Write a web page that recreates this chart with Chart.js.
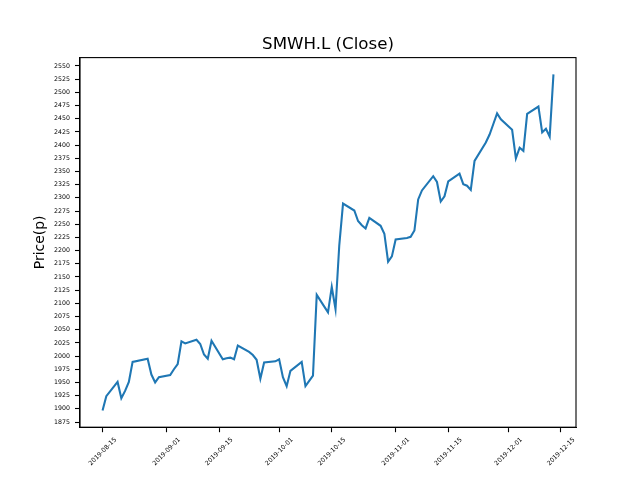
<!DOCTYPE html>
<html>
<head>
<meta charset="utf-8">
<script src="https://cdn.jsdelivr.net/npm/chart.js@4/dist/chart.umd.min.js"></script>
<style>
  body { margin: 0; background: #fff; }
  canvas { display: block; }
</style>
</head>
<body>
<canvas id="chart_close" width="640" height="480"></canvas>
<script>
// SMWH.L daily close
const dates = [
    '2019-08-15', '2019-08-16', '2019-08-19', '2019-08-20', '2019-08-21', '2019-08-22', '2019-08-23',
    '2019-08-27', '2019-08-28', '2019-08-29', '2019-08-30',
    '2019-09-02', '2019-09-03', '2019-09-04', '2019-09-05', '2019-09-06',
    '2019-09-09', '2019-09-10', '2019-09-11', '2019-09-12', '2019-09-13',
    '2019-09-16', '2019-09-17', '2019-09-18', '2019-09-19', '2019-09-20',
    '2019-09-23', '2019-09-24', '2019-09-25', '2019-09-26', '2019-09-27',
    '2019-09-30', '2019-10-01', '2019-10-02', '2019-10-03', '2019-10-04',
    '2019-10-07', '2019-10-08', '2019-10-09', '2019-10-10', '2019-10-11',
    '2019-10-14', '2019-10-15', '2019-10-16', '2019-10-17', '2019-10-18',
    '2019-10-21', '2019-10-22', '2019-10-23', '2019-10-24', '2019-10-25',
    '2019-10-28', '2019-10-29', '2019-10-30', '2019-10-31', '2019-11-01',
    '2019-11-04', '2019-11-05', '2019-11-06', '2019-11-07', '2019-11-08',
    '2019-11-11', '2019-11-12', '2019-11-13', '2019-11-14', '2019-11-15',
    '2019-11-18', '2019-11-19', '2019-11-20', '2019-11-21', '2019-11-22',
    '2019-11-25', '2019-11-26', '2019-11-27', '2019-11-28', '2019-11-29',
    '2019-12-02', '2019-12-03', '2019-12-04', '2019-12-05', '2019-12-06',
    '2019-12-09', '2019-12-10', '2019-12-11', '2019-12-12', '2019-12-13'
];
const closes = [
    1897, 1924, 1951, 1920, 1934, 1951, 1989,
    1995, 1965, 1950, 1960,
    1964, 1975, 1985, 2028, 2024,
    2031, 2023, 2003, 1995, 2029,
    1994, 1996, 1997, 1994, 2020,
    2008, 2002, 1993, 1957, 1988,
    1990, 1994, 1960, 1943, 1972,
    1989, 1943, 1953, 1963, 2116,
    2083, 2131, 2089, 2210, 2289,
    2276, 2256, 2248, 2242, 2262,
    2247, 2232, 2179, 2189, 2221,
    2224, 2226, 2238, 2297, 2314,
    2341, 2330, 2293, 2303, 2331,
    2346, 2326, 2323, 2315, 2370,
    2405, 2420, 2440, 2460, 2449,
    2429, 2375, 2395, 2389, 2459,
    2473, 2424, 2431, 2416, 2534
];
const xTickDates = [
    '2019-08-15', '2019-09-01', '2019-09-15', '2019-10-01', '2019-10-15',
    '2019-11-01', '2019-11-15', '2019-12-01', '2019-12-15'
];
const yTickValues = [
    1875, 1900, 1925, 1950, 1975, 2000, 2025, 2050, 2075, 2100, 2125, 2150, 2175, 2200,
    2225, 2250, 2275, 2300, 2325, 2350, 2375, 2400, 2425, 2450, 2475, 2500, 2525, 2550
];

const DAY = 86400000;
const base = Date.parse(dates[0] + 'T00:00:00Z');
const toDay = d => (Date.parse(d + 'T00:00:00Z') - base) / DAY;
const toDate = v => new Date(base + v * DAY).toISOString().slice(0, 10);

// matplotlib-like 5% margins
const xs = dates.map(toDay);
const xMin = Math.min(...xs), xMax = Math.max(...xs);
const yMin = Math.min(...closes), yMax = Math.max(...closes);
const xPad = (xMax - xMin) * 0.05, yPad = (yMax - yMin) * 0.05;

const FONT = 'DejaVu Sans';

const frame = {
    id: 'frame',
    afterDatasetsDraw(chart) {
        const { ctx, chartArea: a } = chart;
        ctx.save();
        ctx.strokeStyle = '#000';
        ctx.lineWidth = 1.1;
        ctx.strokeRect(a.left, a.top, a.right - a.left, a.bottom - a.top);
        ctx.fillStyle = '#000';
        ctx.font = '16.67px "' + FONT + '"';
        ctx.textAlign = 'center';
        ctx.textBaseline = 'alphabetic';
        ctx.fillText('SMWH.L (Close)', (a.left + a.right) / 2, a.top - 8.3);
        ctx.restore();
    }
};

new Chart(
    document.getElementById('chart_close'),
    {
        type: 'line',
        data: {
            datasets: [
                {
                    label: 'Close',
                    data: dates.map((d, i) => ({ x: toDay(d), y: closes[i] })),
                    borderColor: '#1f77b4',
                    borderWidth: 2.08,
                    pointRadius: 0,
                    tension: 0,
                    fill: false
                }
            ]
        },
        options: {
            responsive: false,
            animation: false,
            devicePixelRatio: 1,
            layout: { padding: { top: 57.6, right: 64, left: 0, bottom: 0 } },
            plugins: {
                legend: { display: false },
                tooltip: { enabled: false },
                title: { display: false }
            },
            scales: {
                x: {
                    type: 'linear',
                    min: xMin - xPad,
                    max: xMax + xPad,
                    afterFit: s => { s.height = 52.8; },
                    afterBuildTicks: s => { s.ticks = xTickDates.map(d => ({ value: toDay(d) })); },
                    grid: { drawOnChartArea: false, drawTicks: true, tickLength: 5, tickColor: '#000', tickWidth: 1.1 },
                    border: { display: true, color: '#000', width: 1.1 },
                    ticks: {
                        autoSkip: false,
                        minRotation: 45,
                        maxRotation: 45,
                        labelOffset: 13,
                        padding: 4,
                        color: '#000',
                        font: { family: FONT, size: 6.25 },
                        callback: v => toDate(v)
                    }
                },
                y: {
                    type: 'linear',
                    min: yMin - yPad,
                    max: yMax + yPad,
                    afterFit: s => { s.width = 80; },
                    afterBuildTicks: s => { s.ticks = yTickValues.map(v => ({ value: v })); },
                    grid: { drawOnChartArea: false, drawTicks: true, tickLength: 5, tickColor: '#000', tickWidth: 1.1 },
                    border: { display: true, color: '#000', width: 1.1 },
                    ticks: {
                        padding: 5,
                        color: '#000',
                        font: { family: FONT, size: 6.25 },
                        callback: v => String(v)
                    },
                    title: {
                        display: true,
                        text: 'Price(p)',
                        color: '#000',
                        font: { family: FONT, size: 13.9 },
                        padding: { top: 31.7, bottom: 0 }
                    }
                }
            }
        },
        plugins: [frame]
    }
);
</script>
</body>
</html>
